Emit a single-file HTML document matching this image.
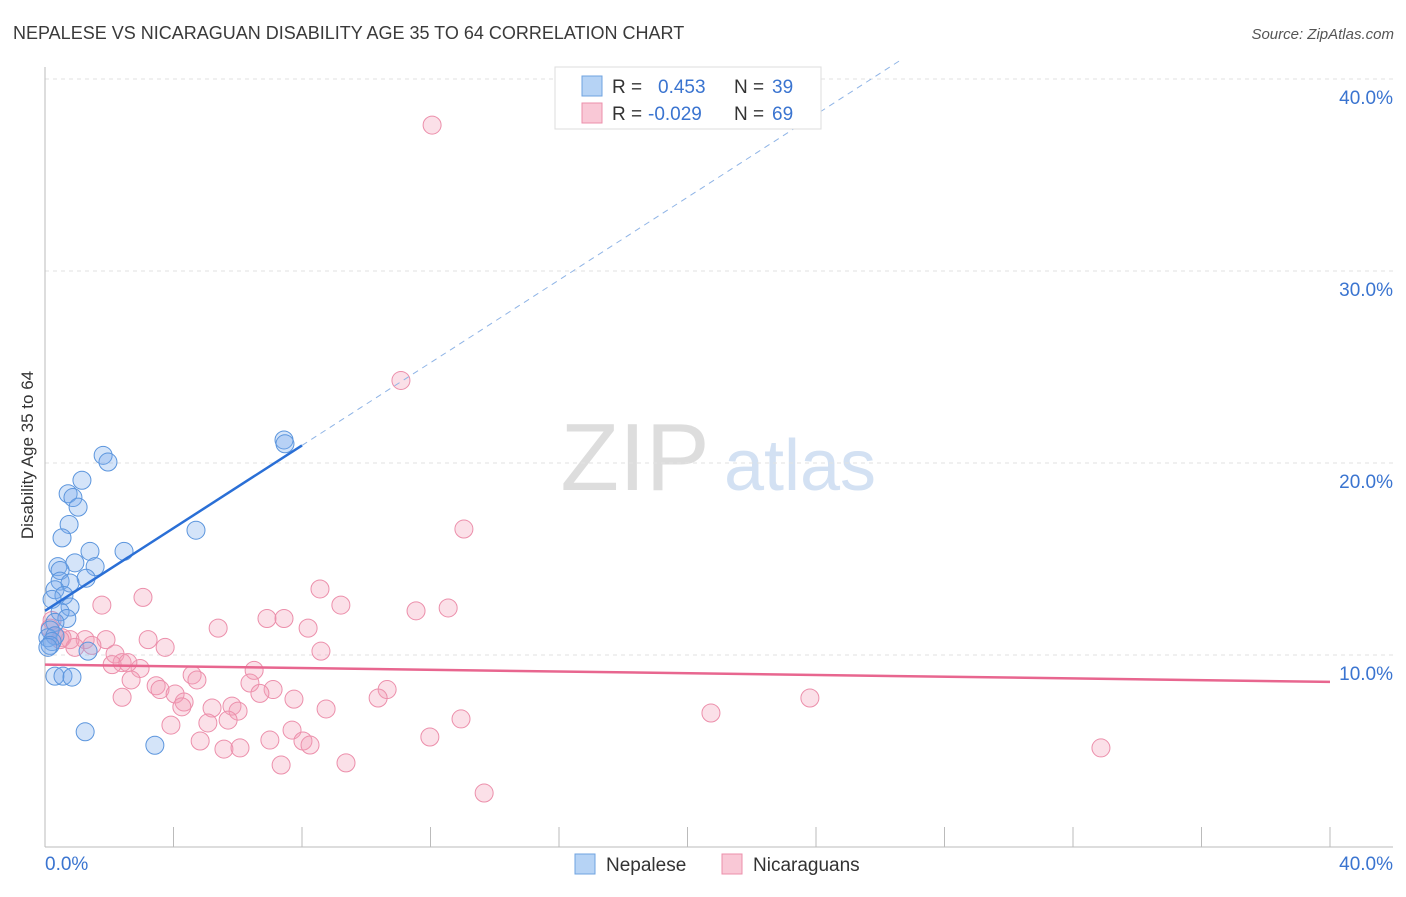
<!DOCTYPE html>
<html><head><meta charset="utf-8"><style>
body{margin:0;background:#fff;font-family:"Liberation Sans",sans-serif}
svg text{font-family:"Liberation Sans",sans-serif}
</style></head><body>
<svg id="c" width="1406" height="892" viewBox="0 0 1406 892" xmlns="http://www.w3.org/2000/svg">
<text x="13" y="39" font-size="18" fill="#3a3a3a">NEPALESE VS NICARAGUAN DISABILITY AGE 35 TO 64 CORRELATION CHART</text>
<text x="1394" y="39" font-size="15" fill="#555" font-style="italic" text-anchor="end">Source: ZipAtlas.com</text>
<text transform="translate(33,455) rotate(-90)" font-size="17" fill="#333" text-anchor="middle">Disability Age 35 to 64</text>
<g><text x="635" y="490" font-size="96" fill="#ddd" font-family="Liberation Serif" text-anchor="middle">ZIP</text><text x="800" y="490" font-size="72" fill="#d3e1f3" text-anchor="middle">atlas</text></g>
<g id="grid"></g><g id="axes"></g><g id="marks"></g>
<g>
<rect x="555" y="67" width="266" height="62" fill="#fff" stroke="#ddd"/>
<rect x="582" y="76" width="20" height="20" fill="#b6d3f5" stroke="#6fa3e0"/>
<rect x="582" y="103" width="20" height="20" fill="#f9c8d6" stroke="#ec8fab"/>
<text x="612" y="93" font-size="19" fill="#333">R =</text><text x="658" y="93" font-size="19" fill="#3a74d0">0.453</text>
<text x="734" y="93" font-size="19" fill="#333">N =</text><text x="772" y="93" font-size="19" fill="#3a74d0">39</text>
<text x="612" y="120" font-size="19" fill="#333">R =</text><text x="648" y="120" font-size="19" fill="#3a74d0">-0.029</text>
<text x="734" y="120" font-size="19" fill="#333">N =</text><text x="772" y="120" font-size="19" fill="#3a74d0">69</text>
</g>
<g>
<rect x="575" y="854" width="20" height="20" fill="#b6d3f5" stroke="#6fa3e0"/>
<text x="606" y="871" font-size="19" fill="#333">Nepalese</text>
<rect x="722" y="854" width="20" height="20" fill="#f9c8d6" stroke="#ec8fab"/>
<text x="753" y="871" font-size="19" fill="#333">Nicaraguans</text>
</g>
</svg>
<script>
const xTicksPct=[0,4,8,12,16,20,24,28,32,36,40];
const yTicks=[10,20,30,40];
const yTickLabels=["10.0%","20.0%","30.0%","40.0%"];
const xEndLabels=["0.0%","40.0%"];
const blueX=[1.81,1.96,7.44,7.47,1.15,0.72,0.87,1.03,0.75,0.53,4.70,1.40,2.46,0.93,0.40,1.56,0.47,1.28,0.47,0.78,0.31,0.59,0.22,0.78,0.47,0.68,0.31,0.16,0.09,0.31,0.22,0.16,1.34,0.31,0.56,0.84,1.25,3.42,0.09];
const blueY=[20.4,20.05,21.2,21.0,19.1,18.4,18.2,17.7,16.8,16.1,16.5,15.4,15.4,14.8,14.6,14.6,14.4,14.0,13.85,13.75,13.4,13.1,12.9,12.5,12.25,11.9,11.7,11.3,10.9,11.0,10.7,10.5,10.2,8.9,8.9,8.85,6.0,5.3,10.4];
const pinkX=[12.05,11.08,13.04,8.56,3.05,1.77,9.21,11.55,12.55,6.91,7.44,5.39,8.19,3.21,1.90,1.25,0.78,0.53,0.31,1.46,3.74,8.59,2.18,2.40,2.09,2.96,2.58,4.58,6.51,6.38,2.68,3.46,3.58,4.73,7.10,10.65,2.40,4.05,4.33,4.26,6.69,7.75,5.20,5.82,10.37,8.75,12.95,20.73,23.81,3.92,6.01,5.07,5.70,7.69,4.83,7.00,8.03,8.25,5.57,6.07,11.98,7.35,9.37,13.67,32.87,0.22,0.16,0.47,0.93];
const pinkY=[37.6,24.3,16.56,13.44,13.0,12.6,12.6,12.3,12.45,11.9,11.9,11.4,11.4,10.8,10.8,10.8,10.8,10.9,11.0,10.5,10.4,10.2,10.05,9.6,9.5,9.3,9.6,8.96,9.2,8.54,8.7,8.4,8.2,8.7,8.2,8.2,7.8,7.97,7.55,7.3,8.0,7.7,7.24,7.34,7.76,7.19,6.67,6.98,7.76,6.35,7.08,6.46,6.61,6.09,5.52,5.57,5.52,5.31,5.10,5.16,5.73,4.27,4.38,2.81,5.16,11.8,11.4,10.8,10.4];
const blueFit=[12.3,1.077];
const pinkFit=[9.5,-0.0225];
const X=v=>45+v*1285/40, Y=v=>847-v*19.2;
const NS="http://www.w3.org/2000/svg";
function mk(p,t,a){const e=document.createElementNS(NS,t);for(const k in a)e.setAttribute(k,a[k]);p.appendChild(e);return e;}
const grid=document.getElementById('grid'),axes=document.getElementById('axes'),marks=document.getElementById('marks');
yTicks.forEach((t,i)=>{
const l=mk(grid,'line',{x1:45,x2:1393,y1:Y(t),y2:Y(t),stroke:'#e2e2e2','stroke-dasharray':'4,4'});


const tx=mk(axes,'text',{x:1393,y:Y(t)+25,'font-size':19,fill:'#3a74d0','text-anchor':'end'});tx.textContent=yTickLabels[i];


});
const la=mk(axes,'line',{x1:45,x2:45,y1:67,y2:847,stroke:'#bbb'});


const lb=mk(axes,'line',{x1:45,x2:1393,y1:847,y2:847,stroke:'#bbb'});


xTicksPct.forEach(t=>{const k=mk(axes,'line',{x1:X(t),x2:X(t),y1:827,y2:847,stroke:'#bbb'});

});
const t0=mk(axes,'text',{x:45,y:870,'font-size':19,fill:'#3a74d0'});t0.textContent=xEndLabels[0];


const t1=mk(axes,'text',{x:1393,y:870,'font-size':19,fill:'#3a74d0','text-anchor':'end'});t1.textContent=xEndLabels[1];


pinkX.forEach((x,i)=>{const c=mk(marks,'circle',{cx:X(x),cy:Y(pinkY[i]),r:9,fill:'rgba(244,160,185,0.32)',stroke:'#ec8fab','stroke-width':1});

});
blueX.forEach((x,i)=>{const c=mk(marks,'circle',{cx:X(x),cy:Y(blueY[i]),r:9,fill:'rgba(120,170,235,0.32)',stroke:'#5b95dd','stroke-width':1});

});
const bx1=8.0,bx2=26.6;
const bl=mk(marks,'line',{x1:X(0),y1:Y(blueFit[0]),x2:X(bx1),y2:Y(blueFit[0]+blueFit[1]*bx1),stroke:'#2a6fd6','stroke-width':2.5});


const bd=mk(marks,'line',{x1:X(bx1),y1:Y(blueFit[0]+blueFit[1]*bx1),x2:X(bx2),y2:Y(blueFit[0]+blueFit[1]*bx2),stroke:'#8fb4e6','stroke-width':1,'stroke-dasharray':'6,5'});


const pl=mk(marks,'line',{x1:X(0),y1:Y(pinkFit[0]),x2:X(40),y2:Y(pinkFit[0]+pinkFit[1]*40),stroke:'#e8668f','stroke-width':2.5});


</script>
</body></html>
